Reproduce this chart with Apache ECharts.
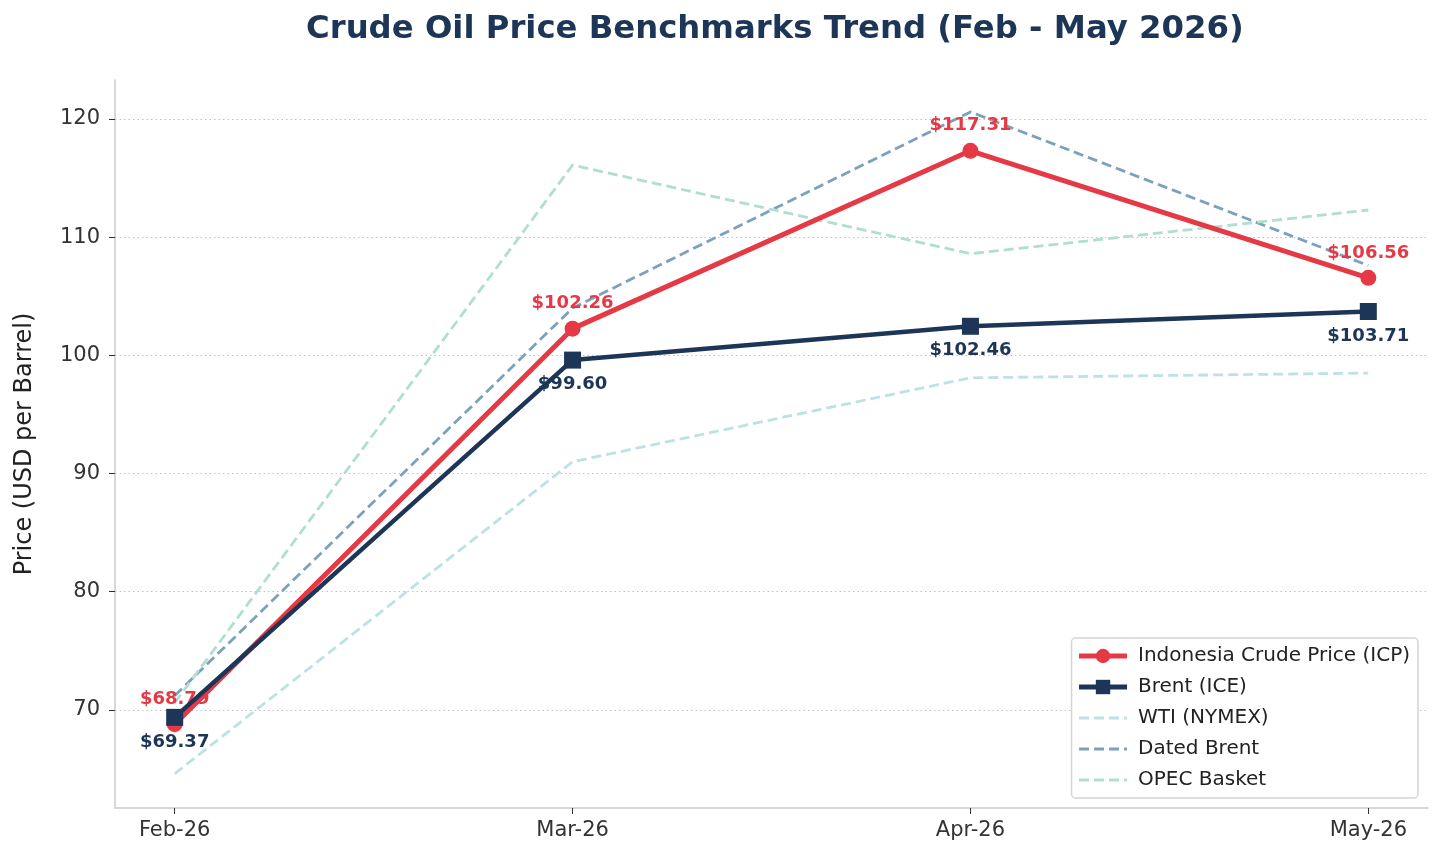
<!DOCTYPE html>
<html>
<head>
<meta charset="utf-8">
<script src="https://cdn.jsdelivr.net/npm/echarts@6/dist/echarts.min.js"></script>
<style>html,body{margin:0;padding:0;background:#fff}#c{width:1443px;height:859px}</style>
</head>
<body>
<div id="c"></div>
<script>
const categories = ['Feb-26', 'Mar-26', 'Apr-26', 'May-26'];
const icp = [68.79, 102.26, 117.31, 106.56];
const brentIce = [69.37, 99.60, 102.46, 103.71];
const wti = [64.6, 91.0, 98.1, 98.5];
const datedBrent = [71.2, 104.0, 120.6, 107.6];
const opec = [70.6, 116.1, 108.6, 112.3];
const yTicks = [70, 80, 90, 100, 110, 120];

const FONT = 'DejaVu Sans';
const pts = arr => arr.map((v, i) => [i, v]);
const C = {icp: '#E63946', brent: '#1D3557', wti: '#bce2e4', dated: '#7ca2bb', opec: '#afdfd1'};

const chart = echarts.init(document.getElementById('c'), null, {renderer: 'canvas'});
chart.setOption({
  animation: false,
  backgroundColor: '#ffffff',
  textStyle: {fontFamily: FONT},
  title: {
    text: 'Crude Oil Price Benchmarks Trend (Feb - May 2026)',
    left: 301, top: 9,
    textStyle: {fontFamily: FONT, fontWeight: 'bold', fontSize: 32.3, color: '#1D3557'}
  },
  grid: {left: 115, right: 15, top: 80, bottom: 51, containLabel: false},
  xAxis: {
    type: 'value', min: -0.15, max: 3.15,
    axisLine: {show: true, onZero: false, lineStyle: {color: '#cccccc', width: 1.5}},
    axisTick: {show: true, customValues: [0, 1, 2, 3], length: 6, lineStyle: {color: '#333'}},
    axisLabel: {customValues: [0, 1, 2, 3], formatter: v => categories[Math.round(v)], fontSize: 21, color: '#333', margin: 12, fontFamily: FONT},
    splitLine: {show: false}
  },
  yAxis: {
    type: 'value', min: 61.7, max: 123.3,
    name: 'Price (USD per Barrel)', nameLocation: 'middle', nameGap: 78, nameRotate: 90,
    nameTextStyle: {fontSize: 24, color: '#222', fontFamily: FONT},
    axisLine: {show: true, onZero: false, lineStyle: {color: '#cccccc', width: 1.5}},
    axisTick: {show: true, customValues: yTicks, length: 6, lineStyle: {color: '#333'}},
    axisLabel: {customValues: yTicks, fontSize: 21, color: '#333', margin: 15, fontFamily: FONT},
    splitLine: {show: false}
  },
  legend: {
    orient: 'vertical', right: 25, bottom: 61,
    backgroundColor: '#fff', borderColor: '#d5d5d5', borderWidth: 1.5, borderRadius: 4,
    padding: [8, 8, 8, 5], itemWidth: 48, itemHeight: 18, itemGap: 11,
    textStyle: {fontSize: 20, color: '#222', fontFamily: FONT, padding: [0, 0, 0, 6]},
    data: [
      {name: 'Indonesia Crude Price (ICP)', lineStyle: {width: 5}},
      {name: 'Brent (ICE)', lineStyle: {width: 5}},
      {name: 'WTI (NYMEX)', itemStyle: {opacity: 0}, lineStyle: {width: 3}},
      {name: 'Dated Brent', itemStyle: {opacity: 0}, lineStyle: {width: 3}},
      {name: 'OPEC Basket', itemStyle: {opacity: 0}, lineStyle: {width: 3}}
    ]
  },
  series: [
    {
      name: 'WTI (NYMEX)', type: 'line', data: pts(wti), symbol: 'none', z: 2,
      lineStyle: {color: C.wti, width: 2.8, type: [10, 5]}, itemStyle: {color: C.wti},
      markLine: {
        silent: true, symbol: 'none', label: {show: false}, z: 1,
        lineStyle: {color: '#c0c0c0', width: 1, type: [1.5, 3]},
        data: yTicks.map(v => ({yAxis: v}))
      }
    },
    {
      name: 'Dated Brent', type: 'line', data: pts(datedBrent), symbol: 'none', z: 2,
      lineStyle: {color: C.dated, width: 2.8, type: [10, 5]}, itemStyle: {color: C.dated}
    },
    {
      name: 'OPEC Basket', type: 'line', data: pts(opec), symbol: 'none', z: 2,
      lineStyle: {color: C.opec, width: 2.8, type: [10, 5]}, itemStyle: {color: C.opec}
    },
    {
      name: 'Indonesia Crude Price (ICP)', type: 'line', data: pts(icp), z: 4,
      symbol: 'circle', symbolSize: 16,
      lineStyle: {color: C.icp, width: 5}, itemStyle: {color: C.icp},
      label: {show: true, position: 'top', distance: 8, formatter: p => '$' + p.value[1].toFixed(2),
        color: C.icp, fontWeight: 'bold', fontSize: 18, fontFamily: FONT}
    },
    {
      name: 'Brent (ICE)', type: 'line', data: pts(brentIce), z: 5,
      symbol: 'rect', symbolSize: 17,
      lineStyle: {color: C.brent, width: 4.5}, itemStyle: {color: C.brent},
      label: {show: true, position: 'bottom', distance: 7, formatter: p => '$' + p.value[1].toFixed(2),
        color: C.brent, fontWeight: 'bold', fontSize: 18, fontFamily: FONT}
    }
  ]
});
</script>
</body>
</html>
